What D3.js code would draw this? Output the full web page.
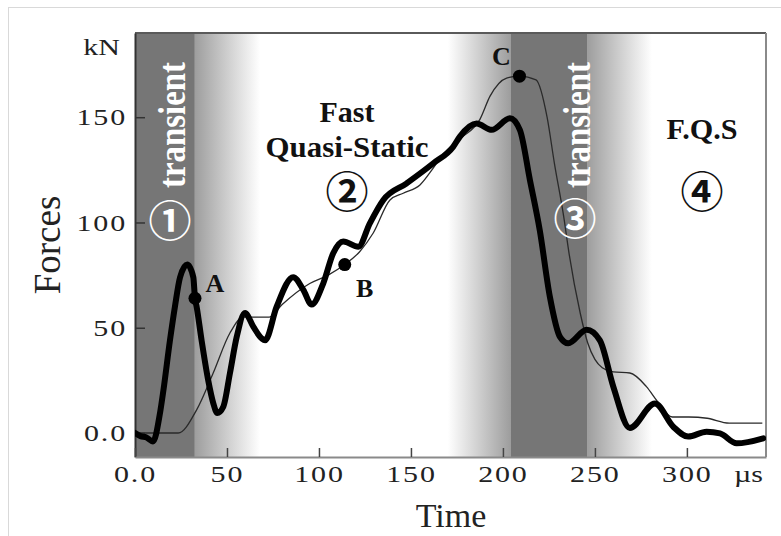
<!DOCTYPE html>
<html><head><meta charset="utf-8">
<script src="https://cdn.jsdelivr.net/npm/d3@7"></script>
<style>
html,body{margin:0;padding:0;background:#fff;}
svg{display:block;}
</style></head>
<body>
<script>
// ---------- data ----------
const thickT = [0,3,6,9.8,13.6,15.4,19,21.7,24.5,28.4,31.7,32.6,33.5,36.2,39.8,42.6,44.7,48,51.6,55.3,59.8,64.3,68.8,70.7,77,86,91.5,96,102.3,107.8,113.2,121.4,127.7,135,147.7,162,173,176.6,185.7,193.9,203.8,209.2,214.7,220,225.5,231,235.5,245.5,252.7,260,269,282.6,292.6,300.7,310.7,318,327,341.5];
const thickF = [0,-1.5,-2,-4,9.5,20,44,60,74,80,74,64,60,44,25,14,9.5,12.5,28.4,45.7,57,50.5,45,44,60,74,68,61,71,85.5,91,88.5,99.7,110.7,118.6,128,136,140.8,147,144,149.5,144,120,96.4,64.8,45.7,42.6,49,44,22,2.4,14,3,-1.7,0.6,-0.2,-4.9,-2.5];
const thinT = [0,23.5,33.5,42.5,51.6,58.7,68,73,80,95,105,114,122,129.5,138.6,145.8,154.9,162,167,177,187.5,193,202,209,218,224,228,233,236,242,246,250,254,260,269,278,284,292,301,311,323,341];
const thinF = [0,0,11,28.5,47.5,55,55,55,61,71,75,80,86,95,110.7,113.9,117.8,125.7,132,140,149,160,168.6,169.5,167.7,150,128,103,85,57,43,35,31,29,28.5,22,15,7.6,7.6,7,4.7,4.7];
const markerNames = ["A","B","C"];
const markerT = [32.6,114,209];
const markerF = [64,80,169.5];
const xTicks = [0,50,100,150,200,250,300];
const xTickLabels = ["0.0","50","100","150","200","250","300"];
const yTicks = [0,50,100,150];
const yTickLabels = ["0.0","50","100","150"];
// phase shading (time, µs)
const darkBands = [[0,32.6],[204,246]];
const fadeOut = [[32.6,68],[246,281]];
const fadeIn = [[170,204]];
const phaseNums = ["①","②","③","④"];

// ---------- layout ----------
const W = 781, H = 536;
const L = 135, R = 766, T = 33, B = 457;
const x = d3.scaleLinear().domain([0,343]).range([L,R]);
const y = d3.scaleLinear().domain([-11.4,190]).range([B,T]);
const serif = "'Liberation Serif','Times New Roman',serif";
const DARK = "#767676", MID = "#9d9d9d";

const svg = d3.select("body").append("svg").attr("width",W).attr("height",H);
const defs = svg.append("defs");
const gOut = defs.append("linearGradient").attr("id","fadeOut");
gOut.append("stop").attr("offset","0%").attr("stop-color",MID);
gOut.append("stop").attr("offset","100%").attr("stop-color","#fff");
const gIn = defs.append("linearGradient").attr("id","fadeIn");
gIn.append("stop").attr("offset","0%").attr("stop-color","#fff");
gIn.append("stop").attr("offset","100%").attr("stop-color",MID);
defs.append("clipPath").attr("id","plotClip").append("rect")
  .attr("x",L).attr("y",T).attr("width",R-L).attr("height",B-T);

// outer frame
svg.append("line").attr("x1",8).attr("x2",W).attr("y1",7.5).attr("y2",7.5).attr("stroke","#d9d9d9");
svg.append("line").attr("x1",8.5).attr("x2",8.5).attr("y1",7).attr("y2",H).attr("stroke","#d9d9d9");

// bands
const bg = svg.append("g");
bg.selectAll("rect.dark").data(darkBands).join("rect").attr("class","dark")
  .attr("x",d=>x(d[0])).attr("width",d=>x(d[1])-x(d[0])).attr("y",T).attr("height",B-T).attr("fill",DARK);
bg.selectAll("rect.fo").data(fadeOut).join("rect").attr("class","fo")
  .attr("x",d=>x(d[0])-0.5).attr("width",d=>x(d[1])-x(d[0])+0.5).attr("y",T).attr("height",B-T).attr("fill","url(#fadeOut)");
bg.selectAll("rect.fi").data(fadeIn).join("rect").attr("class","fi")
  .attr("x",d=>x(d[0])).attr("width",d=>x(d[1])-x(d[0])+0.5).attr("y",T).attr("height",B-T).attr("fill","url(#fadeIn)");

// border lines top / right
svg.append("line").attr("x1",L).attr("x2",R).attr("y1",T).attr("y2",T).attr("stroke","#5a5a5a").attr("stroke-width",2);
svg.append("line").attr("x1",R).attr("x2",R).attr("y1",T).attr("y2",B).attr("stroke","#8a8a8a").attr("stroke-width",2);

// axes
const SX = 1.25;
const yAxis = d3.axisLeft(y).tickValues(yTicks).tickFormat((d,i)=>yTickLabels[i])
  .tickSizeInner(-10).tickSizeOuter(0).tickPadding(8);
const gy = svg.append("g").attr("transform",`translate(${L},0)`).call(yAxis);
gy.select(".domain").attr("stroke","#333").attr("stroke-width",2);
gy.selectAll(".tick line").attr("stroke","#333").attr("stroke-width",1.5);
gy.selectAll(".tick text").attr("font-family",serif).attr("font-size",24).attr("fill","#222")
  .attr("letter-spacing",1.5).attr("x",-8/SX).attr("transform",`scale(${SX},1)`);

const xAxis = d3.axisBottom(x).tickValues(xTicks).tickFormat((d,i)=>xTickLabels[i])
  .tickSizeInner(-9).tickSizeOuter(0).tickPadding(8);
const gx = svg.append("g").attr("transform",`translate(0,${B})`).call(xAxis);
gx.select(".domain").attr("stroke","#8a8a8a").attr("stroke-width",2);
gx.selectAll(".tick line").attr("stroke","#444").attr("stroke-width",1.5);
gx.selectAll(".tick text").attr("font-family",serif).attr("font-size",24).attr("fill","#222")
  .attr("letter-spacing",1.5).attr("transform",`scale(${SX},1)`);

// lines
const lineGen = d3.line().x(d=>x(d[0])).y(d=>y(d[1])).curve(d3.curveMonotoneX);
const plot = svg.append("g").attr("clip-path","url(#plotClip)");
plot.append("path").datum(thinT.map((t,i)=>[t,thinF[i]])).attr("d",lineGen)
  .attr("fill","none").attr("stroke","#2a2a2a").attr("stroke-width",1.3);
plot.append("path").datum(thickT.map((t,i)=>[t,thickF[i]])).attr("d",lineGen)
  .attr("fill","none").attr("stroke","#000").attr("stroke-width",6).attr("stroke-linejoin","round").attr("stroke-linecap","round");

// markers
const mk = markerNames.map((n,i)=>({n, t:markerT[i], f:markerF[i]}));
const labOff = {A:[20,-6], B:[20,32], C:[-18,-11]};
svg.selectAll("circle.mk").data(mk).join("circle").attr("class","mk")
  .attr("cx",d=>x(d.t)).attr("cy",d=>y(d.f)).attr("r",6.5).attr("fill","#000");
svg.selectAll("text.mk").data(mk).join("text").attr("class","mk")
  .attr("x",d=>x(d.t)+labOff[d.n][0]).attr("y",d=>y(d.f)+labOff[d.n][1])
  .attr("text-anchor","middle").attr("font-family",serif).attr("font-weight","bold")
  .attr("font-size",26).attr("fill","#111").text(d=>d.n);

// phase annotations
function rotText(cx, cy, txt){
  svg.append("text").attr("transform",`translate(${cx},${cy}) rotate(-90)`)
    .attr("text-anchor","middle").attr("font-family",serif).attr("font-weight","bold")
    .attr("font-size",38).attr("textLength",126).attr("lengthAdjust","spacingAndGlyphs")
    .attr("fill","#fff").text(txt);
}
rotText(185,125,"transient");
rotText(590,125,"transient");

const circ = [{t:phaseNums[0],x:170,y:222,c:"#fff"},{t:phaseNums[1],x:347,y:193,c:"#111"},
              {t:phaseNums[2],x:575,y:220,c:"#fff"},{t:phaseNums[3],x:702,y:193,c:"#111"}];
svg.selectAll("text.pn").data(circ).join("text").attr("class","pn")
  .attr("x",d=>d.x).attr("y",d=>d.y).attr("dy","0.36em").attr("text-anchor","middle")
  .attr("font-family","'Noto Sans CJK JP','DejaVu Sans',sans-serif").attr("font-weight","bold")
  .attr("font-size",43).attr("fill",d=>d.c).text(d=>d.t);

svg.append("text").attr("x",347).attr("y",122).attr("text-anchor","middle")
  .attr("font-family",serif).attr("font-weight","bold").attr("font-size",30)
  .attr("textLength",55).attr("lengthAdjust","spacingAndGlyphs").attr("fill","#111").text("Fast");
svg.append("text").attr("x",347).attr("y",157).attr("text-anchor","middle")
  .attr("font-family",serif).attr("font-weight","bold").attr("font-size",29)
  .attr("textLength",163).attr("lengthAdjust","spacingAndGlyphs").attr("fill","#111").text("Quasi-Static");
svg.append("text").attr("x",702).attr("y",139).attr("text-anchor","middle")
  .attr("font-family",serif).attr("font-weight","bold").attr("font-size",29)
  .attr("textLength",71).attr("lengthAdjust","spacingAndGlyphs").attr("fill","#111").text("F.Q.S");

// units and titles
svg.append("text").attr("x",120).attr("y",55).attr("text-anchor","end")
  .attr("font-family",serif).attr("font-size",24).attr("fill","#222")
  .attr("transform",`translate(${120-120*SX},0) scale(${SX},1)`).text("kN");
svg.append("text").attr("x",763).attr("y",482).attr("text-anchor","end")
  .attr("font-family",serif).attr("font-size",24).attr("fill","#222")
  .attr("transform",`translate(${763-763*SX},0) scale(${SX},1)`).text("µs");
svg.append("text").attr("transform","translate(60,245) rotate(-90)").attr("text-anchor","middle")
  .attr("font-family",serif).attr("font-size",37).attr("fill","#222").text("Forces");
svg.append("text").attr("x",451).attr("y",527).attr("text-anchor","middle")
  .attr("font-family",serif).attr("font-size",34).attr("fill","#222").text("Time");
</script>
</body></html>
